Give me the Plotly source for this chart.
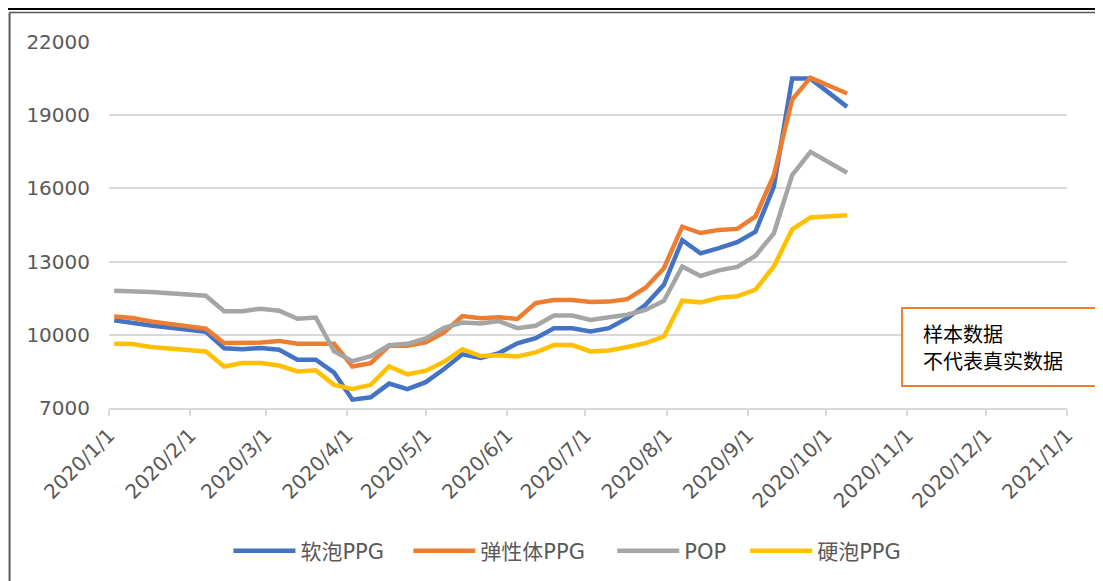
import plotly.graph_objects as go

dates = ["2020-01-03", "2020-01-10", "2020-01-17", "2020-02-07", "2020-02-14", "2020-02-21",
         "2020-02-28", "2020-03-06", "2020-03-13", "2020-03-20", "2020-03-27", "2020-04-03",
         "2020-04-10", "2020-04-17", "2020-04-24", "2020-05-01", "2020-05-08", "2020-05-15",
         "2020-05-22", "2020-05-29", "2020-06-05", "2020-06-12", "2020-06-19", "2020-06-26",
         "2020-07-03", "2020-07-10", "2020-07-17", "2020-07-24", "2020-07-31", "2020-08-07",
         "2020-08-14", "2020-08-21", "2020-08-28", "2020-09-04", "2020-09-11", "2020-09-18",
         "2020-09-25", "2020-10-09"]

soft_ppg = [10600, 10480, 10380, 10120, 9450, 9410, 9460, 9390, 8980, 8980, 8450, 7340,
            7440, 8000, 7770, 8060, 8600, 9200, 9050, 9250, 9650, 9860, 10270, 10270,
            10140, 10270, 10680, 11230, 12050, 13880, 13340, 13550, 13800, 14230, 16070,
            20500, 20500, 19340]
elastic_ppg = [10750, 10690, 10550, 10250, 9660, 9660, 9680, 9750, 9630, 9630, 9630, 8700,
               8840, 9550, 9550, 9690, 10100, 10770, 10680, 10720, 10650, 11300, 11430, 11430,
               11340, 11360, 11460, 11930, 12730, 14430, 14170, 14300, 14340, 14850, 16540,
               19640, 20540, 19890]
pop = [11810, 11800, 11750, 11600, 10970, 10970, 11070, 10990, 10660, 10710, 9320, 8920,
       9120, 9570, 9630, 9850, 10290, 10500, 10460, 10560, 10270, 10370, 10790, 10790,
       10610, 10720, 10820, 11020, 11390, 12800, 12410, 12640, 12780, 13240, 14160,
       16545, 17500, 16640]
rigid_ppg = [9630, 9620, 9500, 9320, 8700, 8840, 8840, 8740, 8500, 8550, 7950, 7780,
             7950, 8700, 8380, 8530, 8890, 9410, 9130, 9160, 9110, 9280, 9580, 9580,
             9320, 9360, 9500, 9660, 9930, 11400, 11330, 11520, 11580, 11850, 12800,
             14320, 14810, 14900]

series_names = ["软泡PPG", "弹性体PPG", "POP", "硬泡PPG"]
series_values = [soft_ppg, elastic_ppg, pop, rigid_ppg]
colors = ["#4472C4", "#ED7D31", "#A5A5A5", "#FFC000"]

tick_vals = ["2020-01-01", "2020-02-01", "2020-03-01", "2020-04-01", "2020-05-01", "2020-06-01",
             "2020-07-01", "2020-08-01", "2020-09-01", "2020-10-01", "2020-11-01", "2020-12-01",
             "2021-01-01"]
tick_text = ["2020/1/1", "2020/2/1", "2020/3/1", "2020/4/1", "2020/5/1", "2020/6/1",
             "2020/7/1", "2020/8/1", "2020/9/1", "2020/10/1", "2020/11/1", "2020/12/1",
             "2021/1/1"]
y_ticks = [7000, 10000, 13000, 16000, 19000, 22000]
y_tick_text = ["7000", "10000", "13000", "16000", "19000", "22000"]

note_lines = ["样本数据", "不代表真实数据"]

W, H = 1103, 581          # page size
OFF = 8                   # default body margin of the html page
L, R, T, B = 108.5, 1067, 42, 408   # plot area in page pixels
legend_x = [228, 408, 612, 745]     # legend entry left edges, page pixels
legend_y = 551


def px(x):
    return (x - L) / (R - L)


def py(y):
    return (B - y) / (B - T)


latin = "DejaVu Sans, Noto Sans CJK SC, sans-serif"

fig = go.Figure()
legend_layouts = {}
for i, (name, vals, c) in enumerate(zip(series_names, series_values, colors)):
    lg = "legend" if i == 0 else f"legend{i + 1}"
    fig.add_trace(go.Scatter(x=dates, y=vals, name=name, mode="lines",
                             line=dict(color=c, width=4.5), legend=lg))
    legend_layouts[lg] = dict(orientation="h", x=px(legend_x[i]), xanchor="left",
                              y=py(legend_y), yanchor="middle",
                              font=dict(size=21, color="#595959", family=latin),
                              itemwidth=62, bgcolor="rgba(0,0,0,0)", borderwidth=0)

fig.update_layout(
    width=W - OFF, height=H - OFF,
    margin=dict(l=L - OFF, r=W - R, t=T - OFF, b=H - B, autoexpand=False),
    paper_bgcolor="white", plot_bgcolor="white",
    font=dict(family=latin, color="#595959", size=18),
    showlegend=True,
    xaxis=dict(type="date", range=["2020-01-01", "2021-01-01"],
               tickvals=tick_vals, ticktext=tick_text, tickangle=-45,
               showgrid=False, showline=True, linecolor="#d9d9d9", linewidth=1.5,
               ticks="outside", ticklen=6, tickcolor="#d9d9d9", tickwidth=1.5,
               tickfont=dict(size=20, color="#595959", family=latin), zeroline=False),
    yaxis=dict(range=[7000, 22000], tickvals=y_ticks, ticktext=y_tick_text, showgrid=True,
               gridcolor="#d9d9d9", gridwidth=1.5, zeroline=False, ticks="",
               tickfont=dict(size=20, color="#595959", family=latin), ticklabelstandoff=18),
    **legend_layouts,
)

shapes = [
    dict(type="line", xref="paper", yref="paper", x0=px(0), x1=px(W), y0=py(8.5), y1=py(8.5),
         line=dict(color="black", width=3)),
    dict(type="line", xref="paper", yref="paper", x0=px(9), x1=px(W), y0=py(12.5), y1=py(12.5),
         line=dict(color="#595959", width=1.5)),
    dict(type="line", xref="paper", yref="paper", x0=px(9), x1=px(9), y0=py(12.5), y1=py(H),
         line=dict(color="#595959", width=2)),
    dict(type="rect", xref="paper", yref="paper", x0=px(902), x1=px(1099), y0=py(386), y1=py(308),
         line=dict(color="#ED7D31", width=2), fillcolor="white", layer="above"),
]
fig.update_layout(shapes=shapes)

for txt, yy in zip(note_lines, [333, 360]):
    fig.add_annotation(xref="paper", yref="paper", x=px(921), y=py(yy), text=txt,
                       showarrow=False, xanchor="left", yanchor="middle",
                       font=dict(size=20, color="black", family="Noto Sans CJK SC, sans-serif"))

fig.write_html("out.html")
